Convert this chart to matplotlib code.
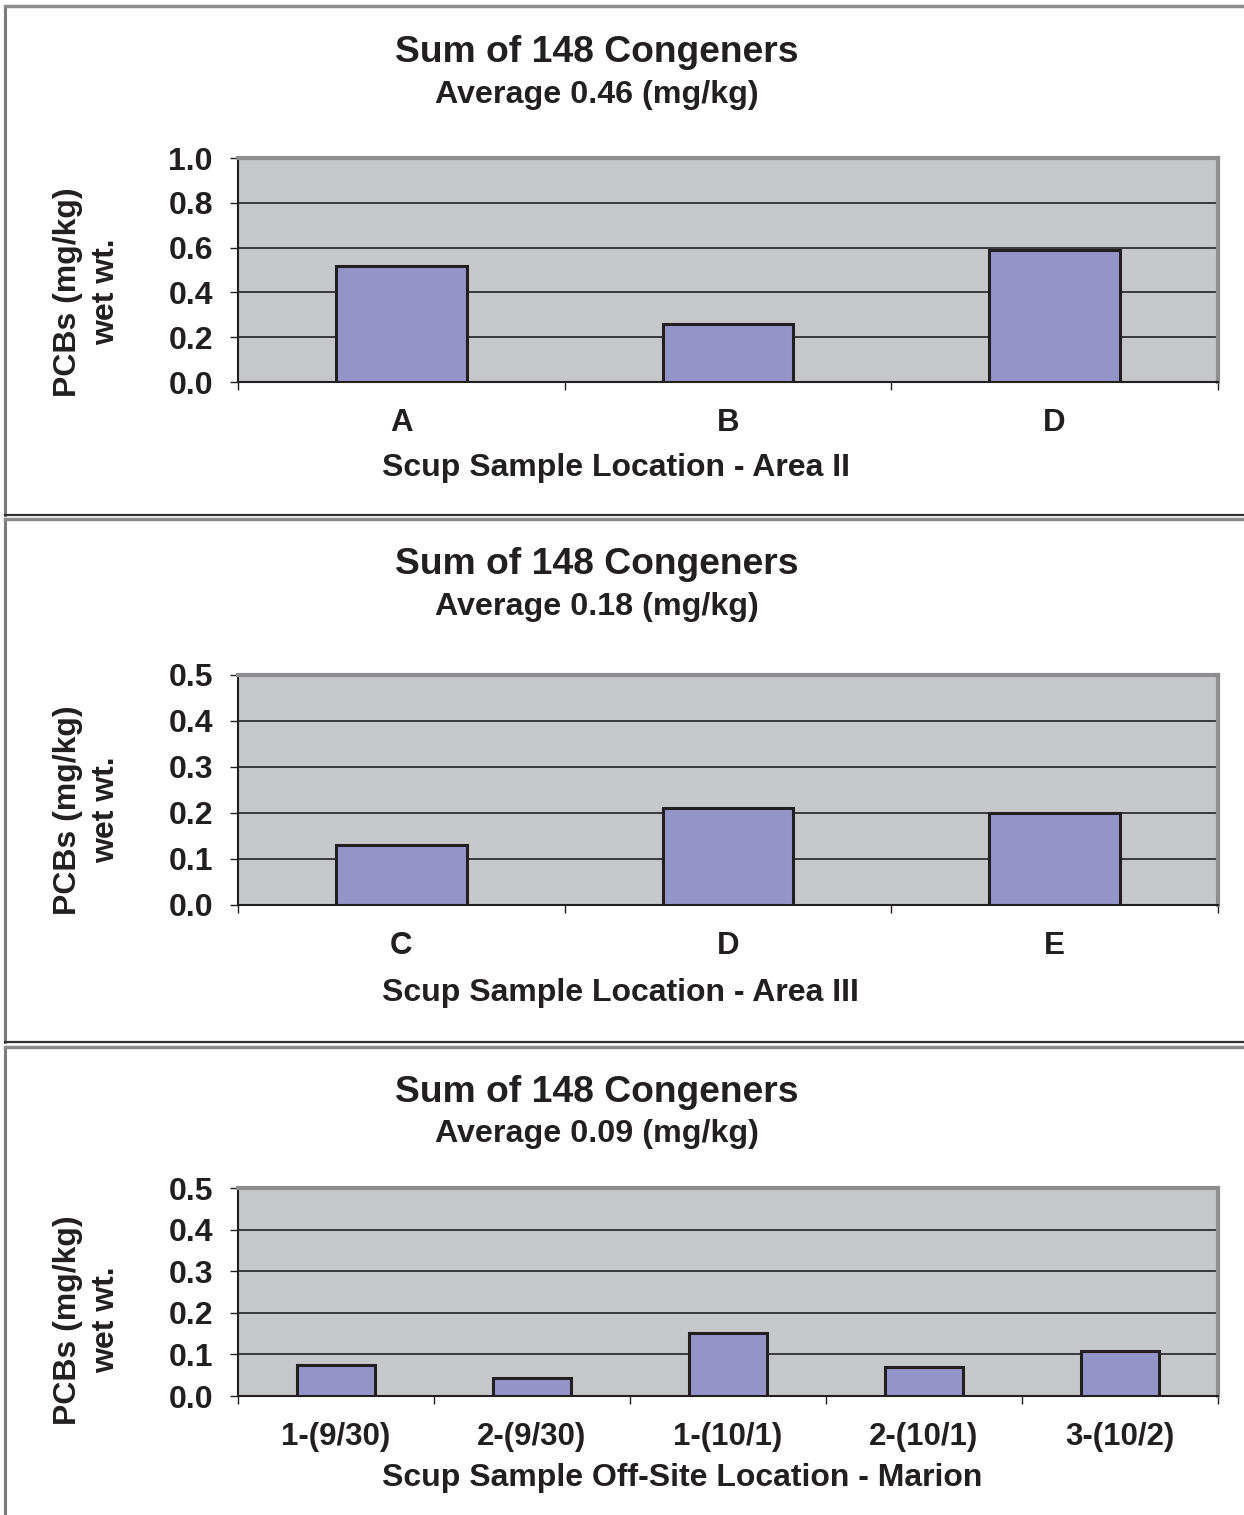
import matplotlib.pyplot as plt
from matplotlib.lines import Line2D
import numpy as np

# PCB totals (sum of 148 congeners), mg/kg wet weight
area2_sites = ['A', 'B', 'D']
area2_pcb = [0.52, 0.26, 0.59]

area3_sites = ['C', 'D', 'E']
area3_pcb = [0.13, 0.21, 0.20]

marion_sites = ['1-(9/30)', '2-(9/30)', '1-(10/1)', '2-(10/1)', '3-(10/2)']
marion_pcb = [0.075, 0.043, 0.151, 0.070, 0.108]

W, H = 1244, 1515
TEXT = '#231f20'
plt.rcParams['font.family'] = ['Liberation Sans', 'DejaVu Sans']
plt.rcParams['font.weight'] = 'bold'

fig = plt.figure(figsize=(W / 100, H / 100), dpi=100)


def fx(px):
    return px / W


def fy(py):
    return 1 - py / H


def panel(top, bottom, ax_top, ax_bottom, sites, values, ymax, ystep, xlabel,
          title_y, xlab_y, ylab_y):
    # frame around the panel
    fig.add_artist(Line2D([fx(5), fx(5)], [fy(top), fy(bottom)], color='#7a7a7a', lw=2.2))
    fig.add_artist(Line2D([fx(5), 1], [fy(top), fy(top)], color='#8c8c8c', lw=2.5))
    if bottom < H:
        fig.add_artist(Line2D([fx(5), 1], [fy(bottom), fy(bottom)], color='#333333', lw=1.6))

    ax = fig.add_axes([fx(238), fy(ax_bottom), fx(1218) - fx(238), fy(ax_top) - fy(ax_bottom)])
    ax.set_facecolor('#c6c7c9')
    n = len(sites)
    x = np.arange(n)
    ax.bar(x, values, width=0.4, color='#9494c8', edgecolor=TEXT, linewidth=2.2, zorder=3)
    ax.set_xlim(-0.5, n - 0.5)
    ax.set_ylim(0, ymax)

    yt = np.arange(0, ymax + ystep / 2, ystep)
    ax.set_yticks(yt)
    ax.set_yticklabels([f'{v:.1f}' for v in yt])
    ax.yaxis.grid(True, color='#3a3a3a', linewidth=1.4, zorder=1)
    ax.set_axisbelow(True)

    # boundaries as major ticks, site names as minor ticks
    ax.set_xticks(np.arange(-0.5, n, 1.0))
    ax.set_xticklabels([])
    ax.set_xticks(x, minor=True)
    ax.set_xticklabels(sites, minor=True)
    ax.tick_params(axis='x', which='major', length=6, width=1, color=TEXT)
    ax.tick_params(axis='x', which='minor', length=0, pad=19, labelsize=22.5, labelcolor=TEXT)
    ax.tick_params(axis='y', length=6, width=1, color=TEXT, pad=12, labelsize=23, labelcolor=TEXT)
    for lab in ax.get_yticklabels() + ax.get_xticklabels(minor=True):
        lab.set_fontweight('bold')

    for side in ['left', 'bottom']:
        ax.spines[side].set_color(TEXT)
        ax.spines[side].set_linewidth(1.5)
    for side in ['top', 'right']:
        ax.spines[side].set_color('#8e8e90')
        ax.spines[side].set_linewidth(3)

    avg = np.mean(values)
    fig.text(fx(597), fy(title_y), 'Sum of 148 Congeners', ha='center', va='center',
             fontsize=26.8, fontweight='bold', color=TEXT)
    fig.text(fx(597), fy(title_y + 42), f'Average {avg:.2f} (mg/kg)', ha='center', va='center',
             fontsize=23.2, fontweight='bold', color=TEXT)
    fig.text(fx(382), fy(xlab_y), xlabel, ha='left', va='center',
             fontsize=23, fontweight='bold', color=TEXT)
    fig.text(fx(87), fy(ylab_y), 'PCBs (mg/kg)\nwet wt.', ha='center', va='center',
             rotation=90, multialignment='center', linespacing=1.38,
             fontsize=23, fontweight='bold', color=TEXT)
    return ax


panel(6, 515, 158, 382, area2_sites, area2_pcb, 1.0, 0.2,
      'Scup Sample Location - Area II', 53, 468, 292)
panel(519, 1042, 675, 905, area3_sites, area3_pcb, 0.5, 0.1,
      'Scup Sample Location - Area III', 565, 993, 810)
panel(1047, H, 1188, 1396, marion_sites, marion_pcb, 0.5, 0.1,
      'Scup Sample Off-Site Location - Marion', 1092, 1478, 1320)

fig.savefig('out.png', dpi=100)
